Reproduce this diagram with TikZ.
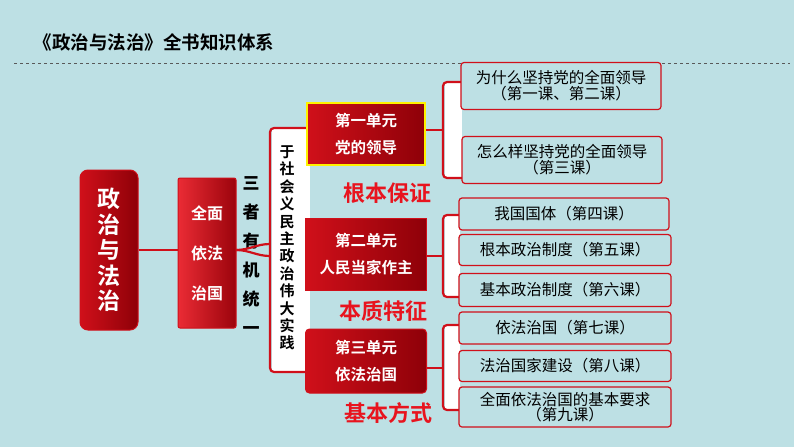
\documentclass[tikz,border=0pt]{standalone}
\usepackage{fontspec}
\newfontfamily\cjk{Noto Sans CJK SC}
\newfontfamily\cjkb{Noto Sans CJK SC Bold}
\definecolor{bg}{HTML}{BDE0E4}
\definecolor{dred}{HTML}{8E0008}
\definecolor{mred}{HTML}{D0101A}
\definecolor{lred}{HTML}{E8141E}
\begin{document}
\begin{tikzpicture}[x=1pt,y=-1pt,
  redbox/.style={draw=mred,line width=1pt,rounded corners=4pt,left color=mred,right color=dred,text=white,align=center,inner sep=0pt},
  leaf/.style={draw=mred,line width=1.2pt,rounded corners=3pt,fill=bg,font=\cjk\fontsize{15.5}{16}\selectfont,align=center,inner sep=0pt},
  tag/.style={text=lred,font=\cjkb\fontsize{22}{24}\selectfont},
  br/.style={draw=mred,line width=2.2pt,rounded corners=4pt}]
\fill[bg] (0,0) rectangle (794,447);
\useasboundingbox (0,0) rectangle (794,447);
\node[anchor=west,font=\cjkb\fontsize{18.5}{20}\selectfont] (title) at (30,42) {《政治与法治》全书知识体系};
\draw[dashed,gray!70!black,line width=0.6pt] (14,63) -- (790,63);
% main
\node[redbox,rounded corners=8pt,minimum width=58pt,minimum height=160pt,font=\cjkb\fontsize{23}{25.5}\selectfont] (main) at (109,250) {政\\治\\与\\法\\治};
\node[redbox,rounded corners=2pt,left color=lred!90!white,right color=dred!80!mred,minimum width=58pt,minimum height=150pt,font=\cjkb\fontsize{16}{40}\selectfont] (qm) at (207,253) {全面\\依法\\治国};
\draw[mred,line width=2.5pt] (main.east|-0,250) -- (qm.west|-0,250);
\node[font=\cjk\bfseries\fontsize{17}{29}\selectfont,align=center] (sz) at (251,256) {三\\者\\有\\机\\统\\一};
% white bracket
\fill[white] (272,128) rectangle (310,372);
\draw[br] (308,128) -- (270,128) -- (270,372) -- (308,372);
\draw[mred,line width=2.2pt] (236,250) to[out=0,in=180] (270,244);
\draw[mred,line width=2.2pt] (236,250) to[out=0,in=180] (270,256);
\node[font=\cjkb\fontsize{15}{17.4}\selectfont,align=center] (sh) at (287,248) {于\\社\\会\\义\\民\\主\\政\\治\\伟\\大\\实\\践};
% units
\node[redbox,rounded corners=0pt,draw=yellow,line width=2pt,minimum width=118pt,minimum height=62pt,font=\cjkb\fontsize{15.5}{27}\selectfont] (u1) at (366,134) {第一单元\\党的领导};
\node[redbox,rounded corners=0pt,minimum width=121pt,minimum height=72pt,font=\cjkb\fontsize{15.5}{27}\selectfont] (u2) at (366,254) {第二单元\\人民当家作主};
\node[redbox,minimum width=121pt,minimum height=64pt,font=\cjkb\fontsize{15.5}{27}\selectfont] (u3) at (366,361) {第三单元\\依法治国};
\node[tag] (t1) at (387,193) {根本保证};
\node[tag] (t2) at (383,311) {本质特征};
\node[tag] (t3) at (388,413) {基本方式};
% right brackets
\fill[white] (445,82) rectangle (462,178);
\fill[white] (445,215) rectangle (460,297);
\fill[white] (445,325) rectangle (460,410);
\draw[br] (462,82) -- (443,82) -- (443,178) -- (462,178);
\draw[br] (460,215) -- (443,215) -- (443,297) -- (460,297);
\draw[br] (460,325) -- (443,325) -- (443,410) -- (460,410);
\coordinate (b1) at (443,130); \coordinate (b2) at (443,256); \coordinate (b3) at (443,368);
\draw[mred,line width=2.2pt] (u1.east|-b1) -- (b1);
\draw[mred,line width=2.2pt] (u2.east|-b2) -- (b2);
\draw[mred,line width=2.2pt] (u3.east|-b3) -- (b3);
% leaves
\node[leaf,minimum width=200pt,minimum height=47pt,font=\cjk\fontsize{15.5}{16}\selectfont] (l1) at (561,86) {为什么坚持党的全面领导\\（第一课、第二课）};
\node[leaf,minimum width=200pt,minimum height=47pt,font=\cjk\fontsize{15.5}{16}\selectfont] (l2) at (562,160) {怎么样坚持党的全面领导\\（第三课）};
\node[leaf,minimum width=210pt,minimum height=32pt] (l3) at (564,214) {我国国体（第四课）};
\node[leaf,minimum width=212pt,minimum height=31pt] (l4) at (565,250) {根本政治制度（第五课）};
\node[leaf,minimum width=212pt,minimum height=33pt] (l5) at (565,290) {基本政治制度（第六课）};
\node[leaf,minimum width=212pt,minimum height=32pt] (l6) at (565,328) {依法治国（第七课）};
\node[leaf,minimum width=212pt,minimum height=31pt] (l7) at (565,366) {法治国家建设（第八课）};
\node[leaf,minimum width=212pt,minimum height=40pt,font=\cjk\fontsize{15.5}{15.5}\selectfont] (l8) at (565,407) {全面依法治国的基本要求\\（第九课）};
\end{tikzpicture}
\end{document}
